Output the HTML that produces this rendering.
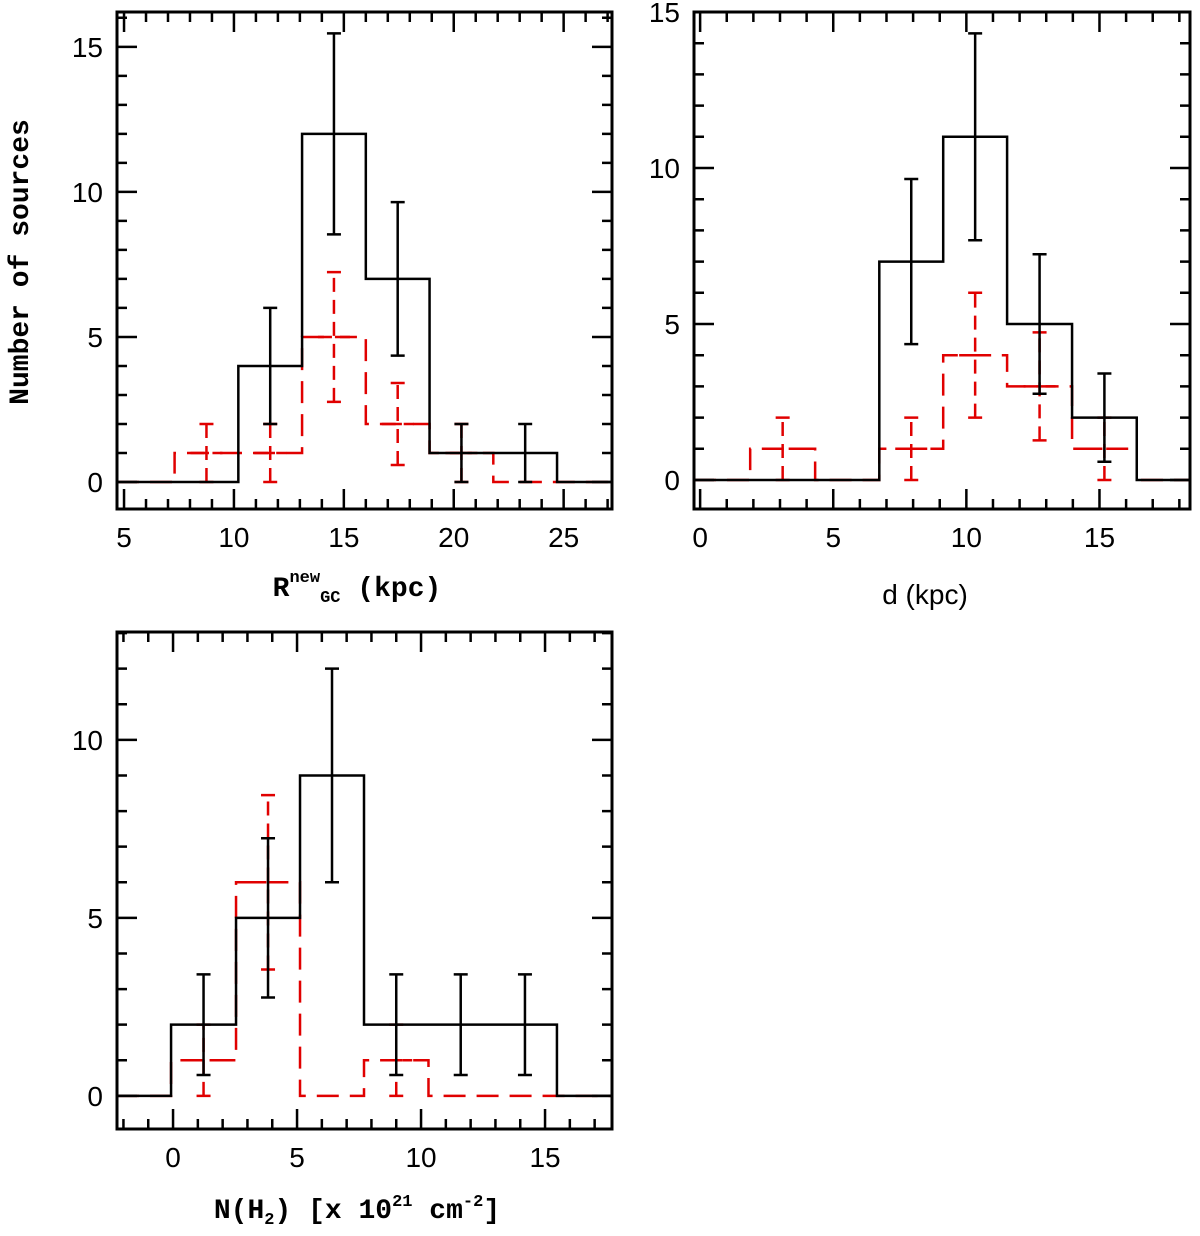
<!DOCTYPE html>
<html><head><meta charset="utf-8"><style>
body{margin:0;background:#fff}
svg{display:block}
.tk{font-family:"Liberation Sans",sans-serif;font-size:28px}
.mono{font-family:"Liberation Mono",monospace;font-size:28px;font-weight:bold}
</style></head><body>
<svg id="s" width="1200" height="1236" viewBox="0 0 1200 1236">
<text class="mono" transform="translate(28,262) rotate(-90)" text-anchor="middle">Number of sources</text>
<text class="mono" x="357" y="596" text-anchor="middle">R<tspan font-size="17" dy="-14">new</tspan><tspan font-size="17" dy="20">GC</tspan><tspan dy="-6"> (kpc)</tspan></text>
<text class="tk" x="925" y="604" text-anchor="middle">d (kpc)</text>
<text class="mono" x="357" y="1218" text-anchor="middle">N(H<tspan font-size="17" dy="6">2</tspan><tspan dy="-6">) [x 10</tspan><tspan font-size="17" dy="-12">21</tspan><tspan dy="12"> cm</tspan><tspan font-size="17" dy="-12">-2</tspan><tspan dy="12">]</tspan></text>
</svg>
<script>
// Panel 1: R_GC
const p1Edges=[10.2,13.1,16.0,18.9,21.8,24.7];
const p1Black=[4,12,7,1,1];
const p1RedEdges=[7.3,10.2,13.1,16.0,18.9,21.8];
const p1Red=[1,1,5,2,1];
const p1XTicks=[5,10,15,20,25];
const p1YTicks=[0,5,10,15];
// Panel 2: d
const p2Edges=[6.73,9.13,11.53,13.97,16.4];
const p2Black=[7,11,5,2];
const p2RedEdges=[1.88,4.32,6.73,9.13,11.53,13.97,16.4];
const p2Red=[1,0,1,4,3,1];
const p2XTicks=[0,5,10,15];
const p2YTicks=[0,5,10,15];
// Panel 3: N(H2)
const p3Edges=[-0.08,2.54,5.12,7.7,10.3,12.9,15.48];
const p3Black=[2,5,9,2,2,2];
const p3RedEdges=[-0.08,2.54,5.12,7.7,10.3];
const p3Red=[1,6,0,1];
const p3XTicks=[0,5,10,15];
const p3YTicks=[0,5,10];

const S=document.getElementById('s');
const NS='http://www.w3.org/2000/svg';
function mk(t,a){const e=document.createElementNS(NS,t);for(const k in a)e.setAttribute(k,a[k]);S.appendChild(e);return e;}

function panel(id,box,xr,yr,edges,black,redE,red,xt,yt){
  const [L,T,R,B]=box;
  const X=v=>L+(v-xr[0])/(xr[1]-xr[0])*(R-L);
  const Y=v=>B-(v-yr[0])/(yr[1]-yr[0])*(B-T);
  function hist(E,V,col,dash,name){
    let d=`M${L},${Y(0)} L${X(E[0])},${Y(0)}`;
    for(let i=0;i<V.length;i++){d+=` L${X(E[i])},${Y(V[i])} L${X(E[i+1])},${Y(V[i])}`;}
    d+=` L${X(E[E.length-1])},${Y(0)} L${R},${Y(0)}`;
    const p=mk('path',{d:d,fill:'none',stroke:col,'stroke-width':2.5});
    if(dash)p.setAttribute('stroke-dasharray','22,11');
    
    
    for(let i=0;i<V.length;i++){if(V[i]<=0)continue;
      const c=(E[i]+E[i+1])/2,e=Math.sqrt(V[i]);
      const g=mk('path',{d:`M${X(c)},${Y(V[i]-e)} V${Y(V[i]+e)} M${X(c)-7},${Y(V[i]-e)} h14 M${X(c)-7},${Y(V[i]+e)} h14`+(dash?` M${X(c)-16},${Y(V[i])} h32`:''),fill:'none',stroke:col,'stroke-width':2.5});
      if(dash)g.setAttribute('stroke-dasharray','14,8');
      
      
    }
  }
  hist(redE,red,'#e00000',true,id+'-red-histogram');
  hist(edges,black,'#000',false,id+'-black-histogram');
  const f=mk('rect',{x:L,y:T,width:R-L,height:B-T,fill:'none',stroke:'#000','stroke-width':3});
  
  
  let d='';
  for(let v=Math.ceil(xr[0]);v<=xr[1];v++){const len=v%5===0?20:10;d+=`M${X(v)},${B} v${-len} M${X(v)},${T} v${len} `;}
  for(let v=Math.ceil(yr[0]);v<=yr[1];v++){const len=v%5===0?20:10;d+=`M${L},${Y(v)} h${len} M${R},${Y(v)} h${-len} `;}
  const tk=mk('path',{d:d,stroke:'#000','stroke-width':2.5,fill:'none'});
  
  
  xt.forEach(v=>{const t=mk('text',{x:X(v),y:B+38,'text-anchor':'middle',class:'tk'});t.textContent=v;
    
    });
  yt.forEach(v=>{const t=mk('text',{x:L-14,y:Y(v)+10,'text-anchor':'end',class:'tk'});t.textContent=v;
    
    });
}
panel('panel-rgc',[117,12,612,509],[4.68,27.2],[-0.93,16.2],p1Edges,p1Black,p1RedEdges,p1Red,p1XTicks,p1YTicks);
panel('panel-d',[694,12,1190,509],[-0.23,18.4],[-0.93,15.0],p2Edges,p2Black,p2RedEdges,p2Red,p2XTicks,p2YTicks);
panel('panel-nh2',[117,632,612,1129],[-2.26,17.7],[-0.93,13.03],p3Edges,p3Black,p3RedEdges,p3Red,p3XTicks,p3YTicks);
</script>
</body></html>
